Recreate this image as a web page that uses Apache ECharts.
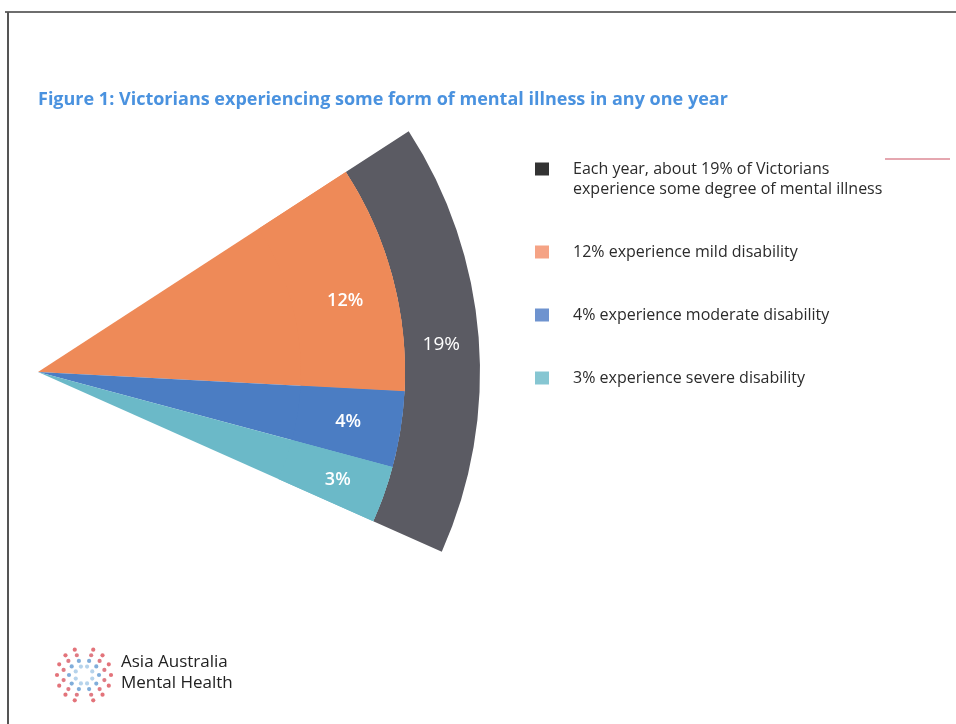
<!DOCTYPE html>
<html><head><meta charset="utf-8">
<script src="https://cdn.jsdelivr.net/npm/echarts@6/dist/echarts.min.js"></script>
<style>html,body{margin:0;padding:0;background:#fff}#c{width:956px;height:724px}</style>
</head><body><div id="c"></div>
<script>
// ---- data ----
const titleText = 'Figure 1: Victorians experiencing some form of mental illness in any one year';
const totalName = 'Each year, about 19% of Victorians\nexperience some degree of mental illness';
const totalValues = [19];
const categories = ['12% experience mild disability', '4% experience moderate disability', '3% experience severe disability'];
const breakdownValues = [12, 4, 3];
const fanScaleTotal = 120; // value represented by a full circle in the drawn fan (3 degrees per percent)
const logoLines = ['Asia Australia', 'Mental Health'];

// ---- styles ----
const darkCol = '#5b5b63';
const sliceCols = ['#ee8a58', '#4b7dc3', '#6bb9c8'];
const labelNudges = [[0, 11], [-4, 0], [0, 2]];
const legendCols = ['#333333', '#f5a385', '#6e93cf', '#86c6d2'];
const center = [38, 372];
const startAngle = 33;
const fontMain = '"Open Sans", "Noto Sans", sans-serif';

const restItem = (v) => ({ name: '__rest', value: v, itemStyle: { color: 'rgba(0,0,0,0)' }, label: { show: false } });
const totalSum = totalValues.reduce((a, b) => a + b, 0);
const breakSum = breakdownValues.reduce((a, b) => a + b, 0);

const outerData = totalValues.map(v => ({ name: totalName, value: v, itemStyle: { color: darkCol } }));
outerData.push(restItem(fanScaleTotal - totalSum));
const innerData = breakdownValues.map((v, i) => ({ name: categories[i], value: v, itemStyle: { color: sliceCols[i] } }));
innerData.push(restItem(fanScaleTotal - breakSum));
const innerLabelData = breakdownValues.map((v, i) => ({ name: categories[i], value: v, itemStyle: { color: sliceCols[i] }, label: { offset: labelNudges[i] } }));
innerLabelData.push(restItem(fanScaleTotal - breakSum));

// logo dots (decoration)
const logoDots = [];
const lc = [84, 675];
const rings = [
  { r: 27, col: '#de5a63', n: 7 },
  { r: 21, col: '#d9646e', n: 6 },
  { r: 15, col: '#6a9fd4', n: 5 },
  { r: 9,  col: '#a9cbe8', n: 4 }
];
rings.forEach(ring => {
  for (let k = 0; k < ring.n; k++) {
    const a = (-70 + 140 * k / (ring.n - 1)) * Math.PI / 180;
    [-1, 1].forEach(side => {
      logoDots.push({
        type: 'circle', silent: true,
        shape: { cx: lc[0] + side * ring.r * Math.cos(a), cy: lc[1] + ring.r * Math.sin(a), r: 2.1 },
        style: { fill: ring.col, opacity: 0.85 }
      });
    });
  }
});

const chart = echarts.init(document.getElementById('c'), null, { renderer: 'canvas' });
const baseLabel = { show: true, position: 'inside', formatter: '{c}%', color: '#ffffff', fontFamily: fontMain, fontSize: 18 };
chart.setOption({
  animation: false,
  backgroundColor: '#ffffff',
  title: {
    text: titleText, left: 33, top: 86, padding: [5, 5, 5, 5],
    textStyle: { color: '#4a92df', fontSize: 18, fontWeight: 'bold', fontFamily: fontMain }
  },
  legend: {
    orient: 'vertical', left: 535, top: 139, padding: 0, selectedMode: false,
    icon: 'rect', itemWidth: 14, itemHeight: 13, itemGap: 43,
    formatter: name => (name === totalName ? '\n' + name : name),
    textStyle: { fontSize: 16, color: '#2b2b2b', fontFamily: fontMain, lineHeight: 20, padding: [0, 0, 0, 19] },
    data: [
      { name: totalName, itemStyle: { color: legendCols[0] } },
      ...categories.map((c, i) => ({ name: c, itemStyle: { color: legendCols[i + 1] } }))
    ]
  },
  series: [
    {
      type: 'pie', silent: true, center: center, radius: [367, 442], startAngle: startAngle, clockwise: true,
      avoidLabelOverlap: false, labelLine: { show: false },
      label: Object.assign({}, baseLabel, { fontWeight: 'normal', fontSize: 19, offset: [-3, 5] }),
      data: outerData
    },
    {
      type: 'pie', silent: true, center: center, radius: [0, 367], startAngle: startAngle, clockwise: true,
      label: { show: false }, labelLine: { show: false },
      data: innerData
    },
    {
      type: 'pie', silent: true, center: center, radius: [263, 367], startAngle: startAngle, clockwise: true,
      avoidLabelOverlap: false, labelLine: { show: false },
      label: Object.assign({}, baseLabel, { fontWeight: 600 }),
      data: innerLabelData
    }
  ],
  graphic: [
    { type: 'line', silent: true, shape: { x1: 5, y1: 12, x2: 956, y2: 12 }, style: { stroke: '#6e6e6e', lineWidth: 2 } },
    { type: 'line', silent: true, shape: { x1: 8, y1: 12, x2: 8, y2: 724 }, style: { stroke: '#555555', lineWidth: 2 } },
    { type: 'line', silent: true, shape: { x1: 885, y1: 159, x2: 950, y2: 159 }, style: { stroke: '#dc8a96', lineWidth: 1.5 } },
    { type: 'text', silent: true, left: 121, top: 654, style: { text: logoLines[0], fill: '#222222', font: '17px "Open Sans", sans-serif' } },
    { type: 'text', silent: true, left: 121, top: 675, style: { text: logoLines[1], fill: '#222222', font: '17px "Open Sans", sans-serif' } },
    ...logoDots
  ]
});
</script></body></html>
